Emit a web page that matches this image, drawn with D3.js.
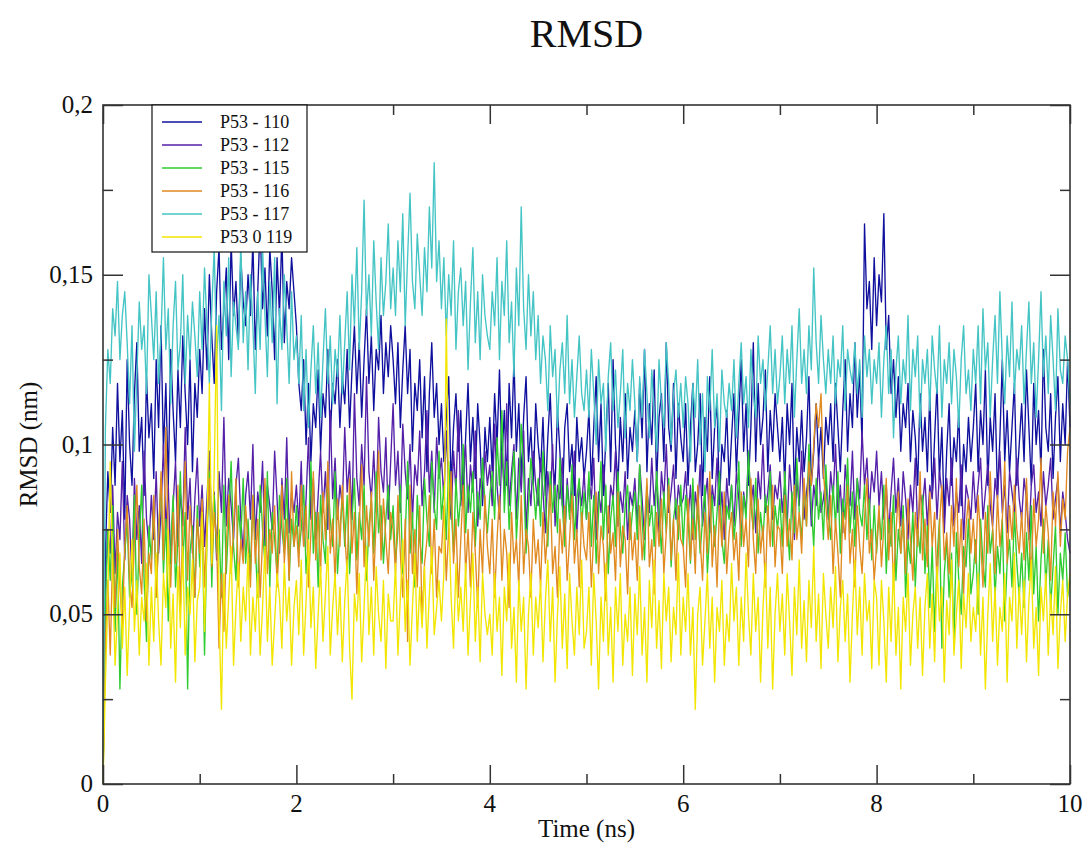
<!DOCTYPE html>
<html>
<head>
<meta charset="utf-8">
<script src="https://cdn.jsdelivr.net/npm/d3@7"></script>
<style>
    body { margin: 0; background: #fff; }
    svg text { font-family: "Liberation Serif", "DejaVu Serif", serif; fill: #111; }
</style>
</head>
<body>
<div id="chart"></div>
<script>
// valores RMSD en milesimas de nm (0.001 nm), una muestra cada 0.025 ns
let rmsd110 = [
    0, 68, 92, 80, 105, 88, 118, 95, 110, 78, 125, 100, 88, 115, 130, 98, 108, 85, 120, 102,
    112, 90, 125, 105, 135, 98, 118, 88, 128, 110, 95, 122, 105, 132, 115, 100, 125, 92, 118, 108,
    128, 115, 140, 122, 150, 132, 118, 145, 158, 128, 140, 152, 125, 160, 138, 148, 130, 155, 142, 135,
    150, 138, 160, 128, 145, 165, 140, 152, 132, 158, 145, 125, 155, 138, 162, 130, 148, 140, 155, 145,
    135, 118, 110, 125, 100, 118, 95, 112, 105, 122, 98, 115, 108, 128, 102, 118, 112, 125, 105, 120,
    112, 128, 105, 122, 135, 115, 130, 108, 125, 140, 118, 132, 110, 128, 122, 138, 115, 130, 120, 135,
    125, 112, 130, 105, 122, 135, 115, 128, 98, 118, 110, 125, 102, 120, 92, 115, 130, 108, 118, 100,
    112, 95, 108, 120, 88, 105, 115, 98, 110, 85, 102, 118, 95, 108, 90, 112, 100, 82, 105, 95,
    108, 92, 115, 100, 122, 95, 110, 88, 118, 102, 125, 98, 112, 90, 108, 120, 95, 105, 88, 112,
    100, 92, 108, 85, 102, 115, 95, 88, 110, 98, 82, 105, 112, 92, 100, 85, 108, 95, 102, 90,
    98, 110, 88, 105, 120, 95, 112, 85, 102, 118, 92, 125, 100, 88, 108, 95, 115, 90, 105, 98,
    110, 95, 118, 102, 128, 92, 112, 100, 122, 88, 108, 115, 95, 130, 105, 98, 118, 90, 112, 102,
    95, 112, 88, 105, 118, 92, 100, 115, 85, 108, 98, 120, 90, 105, 112, 82, 100, 95, 110, 88,
    102, 115, 92, 108, 125, 98, 112, 88, 105, 130, 95, 118, 100, 108, 122, 92, 110, 98, 115, 105,
    95, 108, 88, 112, 100, 118, 85, 105, 95, 110, 92, 102, 120, 88, 98, 112, 95, 105, 90, 108,
    100, 112, 95, 118, 105, 92, 110, 125, 98, 115, 105, 130, 108, 122, 100, 165, 140, 148, 128, 155,
    135, 150, 142, 168, 128, 138, 115, 125, 108, 120, 98, 112, 105, 118, 95, 110, 102, 88, 115, 98,
    108, 92, 115, 85, 102, 118, 90, 105, 78, 98, 112, 88, 102, 95, 110, 82, 100, 92, 108, 95,
    105, 118, 92, 110, 100, 122, 88, 108, 98, 115, 85, 102, 125, 95, 110, 92, 105, 118, 88, 100,
    112, 95, 122, 105, 88, 118, 100, 110, 92, 128, 105, 98, 115, 90, 108, 120, 95, 112, 100, 125, 105
];
let rmsd112 = [
    0, 58, 75, 68, 88, 62, 80, 72, 95, 66, 85, 78, 60, 90, 72, 82, 65, 98, 78, 70,
    85, 72, 92, 68, 80, 100, 75, 88, 65, 82, 95, 70, 86, 76, 105, 78, 90, 68, 84, 96,
    76, 88, 70, 84, 98, 74, 86, 66, 92, 80, 108, 76, 90, 82, 72, 88, 96, 78, 68, 85,
    92, 78, 100, 72, 86, 80, 95, 70, 88, 82, 75, 98, 84, 68, 90, 78, 102, 74, 86, 80,
    88, 76, 95, 70, 84, 102, 78, 90, 72, 85, 98, 80, 92, 75, 110, 84, 96, 78, 88, 82,
    105, 86, 95, 78, 115, 90, 82, 100, 88, 120, 92, 84, 98, 80, 108, 92, 86, 102, 78, 95,
    112, 88, 98, 80, 106, 92, 84, 100, 78, 94, 88, 104, 82, 92, 110, 86, 98, 80, 102, 90,
    96, 84, 104, 88, 78, 98, 86, 110, 82, 92, 100, 80, 94, 86, 104, 76, 90, 84, 98, 88,
    94, 82, 106, 88, 78, 98, 86, 112, 82, 92, 100, 78, 96, 86, 104, 74, 90, 82, 98, 88,
    82, 96, 86, 74, 92, 82, 100, 76, 88, 84, 96, 72, 90, 80, 86, 98, 74, 88, 82, 92,
    78, 90, 84, 96, 72, 86, 80, 94, 82, 74, 88, 84, 98, 76, 86, 80, 92, 72, 86, 82,
    90, 76, 94, 84, 72, 86, 80, 96, 82, 90, 74, 92, 84, 100, 80, 86, 94, 78, 88, 82,
    84, 92, 78, 88, 72, 86, 80, 94, 76, 84, 90, 74, 88, 82, 96, 78, 86, 72, 90, 80,
    88, 76, 92, 84, 72, 86, 80, 98, 82, 88, 74, 92, 84, 100, 80, 86, 94, 78, 88, 84,
    92, 80, 88, 76, 94, 84, 72, 90, 82, 98, 78, 86, 92, 76, 88, 82, 96, 80, 84, 90,
    78, 92, 84, 100, 80, 88, 74, 94, 86, 82, 98, 78, 90, 84, 104, 88, 96, 80, 92, 86,
    98, 82, 92, 78, 88, 74, 86, 96, 80, 90, 76, 92, 84, 72, 88, 80, 96, 74, 86, 82,
    90, 76, 88, 84, 96, 78, 92, 86, 74, 90, 82, 96, 76, 86, 80, 94, 72, 88, 84, 78,
    92, 80, 88, 96, 78, 86, 94, 82, 76, 90, 84, 98, 80, 88, 74, 92, 86, 80, 96, 84,
    78, 90, 84, 72, 88, 94, 80, 86, 76, 92, 82, 88, 96, 78, 84, 90, 74, 86, 80, 72, 68
];
let rmsd115 = [
    0, 52, 75, 60, 82, 45, 70, 28, 58, 68, 78, 55, 62, 85, 50, 72, 88, 60, 42, 76,
    66, 82, 55, 74, 90, 62, 78, 48, 70, 85, 58, 72, 92, 65, 80, 28, 68, 76, 55, 82,
    64, 80, 38, 72, 92, 58, 85, 68, 75, 55, 88, 62, 78, 95, 70, 60, 82, 72, 90, 65,
    78, 62, 85, 70, 55, 88, 75, 65, 92, 58, 80, 72, 62, 85, 75, 68, 90, 60, 78, 70,
    82, 68, 75, 88, 62, 72, 95, 68, 80, 58, 85, 72, 65, 90, 78, 70, 92, 62, 75, 84,
    70, 85, 62, 78, 90, 66, 80, 72, 88, 60, 76, 84, 68, 92, 74, 82, 65, 78, 88, 72,
    82, 65, 75, 88, 62, 72, 95, 68, 80, 58, 85, 72, 65, 90, 78, 70, 95, 82, 75, 98,
    78, 88, 72, 95, 82, 68, 90, 76, 85, 100, 74, 88, 80, 92, 70, 86, 78, 96, 82, 74,
    85, 92, 78, 102, 88, 110, 80, 95, 75, 88, 98, 72, 85, 106, 92, 68, 82, 96, 88, 78,
    90, 76, 98, 84, 70, 92, 80, 88, 74, 96, 82, 70, 88, 78, 94, 72, 84, 90, 76, 86,
    78, 92, 70, 85, 65, 80, 95, 72, 88, 62, 78, 85, 70, 92, 75, 68, 82, 88, 72, 80,
    86, 72, 94, 78, 66, 88, 76, 82, 70, 92, 80, 68, 86, 74, 90, 64, 78, 84, 72, 88,
    70, 85, 78, 65, 90, 72, 82, 68, 78, 88, 62, 75, 85, 70, 80, 92, 72, 65, 82, 78,
    88, 72, 80, 95, 70, 85, 78, 98, 82, 75, 90, 68, 80, 72, 85, 78, 92, 70, 82, 75,
    84, 70, 92, 78, 66, 86, 74, 96, 80, 72, 88, 76, 100, 82, 70, 90, 78, 86, 72, 94,
    80, 72, 88, 76, 92, 68, 84, 78, 96, 74, 86, 70, 90, 80, 76, 88, 72, 84, 66, 82,
    68, 80, 72, 88, 62, 78, 70, 85, 60, 75, 68, 82, 55, 72, 65, 80, 58, 75, 68, 85,
    62, 76, 52, 70, 45, 66, 78, 40, 62, 72, 55, 68, 42, 74, 60, 50, 70, 64, 78, 56,
    62, 72, 50, 78, 65, 58, 82, 68, 75, 55, 70, 62, 78, 48, 65, 72, 58, 80, 65, 55,
    68, 52, 74, 60, 82, 56, 70, 48, 66, 78, 58, 72, 52, 64, 76, 50, 68, 60, 74, 55, 60
];
let rmsd116 = [
    0, 42, 60, 38, 68, 52, 75, 58, 46, 70, 82, 60, 52, 72, 88, 64, 56, 78, 48, 68,
    62, 85, 55, 72, 92, 66, 105, 70, 58, 80, 65, 88, 52, 75, 95, 60, 82, 70, 55, 78,
    68, 84, 58, 76, 90, 64, 80, 72, 40, 62, 45, 70, 85, 62, 75, 90, 58, 72, 65, 82,
    70, 58, 85, 65, 78, 55, 72, 90, 62, 75, 68, 82, 58, 72, 88, 65, 78, 60, 92, 70,
    76, 64, 88, 70, 82, 58, 74, 92, 66, 80, 62, 86, 72, 95, 68, 78, 60, 84, 70, 88,
    74, 62, 90, 68, 80, 56, 76, 94, 64, 82, 70, 86, 60, 78, 98, 66, 84, 72, 62, 80,
    75, 62, 85, 68, 55, 78, 42, 88, 62, 75, 58, 82, 48, 65, 72, 85, 62, 78, 55, 70,
    68, 82, 60, 75, 92, 65, 78, 55, 72, 88, 62, 75, 58, 80, 68, 52, 75, 62, 85, 70,
    62, 78, 55, 72, 85, 60, 75, 68, 52, 80, 65, 72, 58, 85, 62, 75, 70, 55, 78, 65,
    72, 58, 80, 65, 75, 88, 62, 70, 55, 78, 68, 82, 60, 72, 85, 65, 75, 58, 80, 70,
    66, 80, 58, 74, 86, 62, 76, 70, 54, 82, 68, 74, 60, 86, 64, 76, 72, 56, 80, 66,
    74, 60, 82, 66, 76, 90, 64, 72, 56, 80, 70, 84, 62, 74, 88, 66, 78, 60, 82, 72,
    70, 58, 84, 66, 78, 62, 88, 72, 60, 80, 68, 92, 64, 76, 58, 82, 70, 86, 62, 74,
    80, 66, 74, 60, 86, 70, 78, 64, 90, 72, 62, 84, 68, 76, 58, 82, 70, 88, 64, 76,
    75, 62, 85, 70, 78, 66, 88, 72, 80, 68, 90, 76, 95, 88, 100, 112, 105, 115, 92, 82,
    72, 85, 62, 78, 68, 55, 80, 72, 88, 65, 75, 58, 82, 70, 62, 78, 90, 68, 75, 60,
    70, 82, 64, 76, 90, 66, 80, 58, 74, 86, 68, 78, 62, 84, 72, 60, 80, 70, 92, 66,
    78, 64, 86, 70, 80, 58, 76, 88, 66, 74, 62, 82, 70, 90, 64, 78, 56, 76, 84, 68,
    78, 65, 85, 72, 58, 80, 68, 92, 75, 62, 85, 70, 78, 95, 65, 82, 72, 88, 75, 68,
    80, 66, 90, 72, 62, 84, 70, 78, 96, 68, 82, 74, 60, 86, 76, 92, 70, 84, 78, 98, 105
];
let rmsd117 = [
    0, 105, 128, 118, 140, 132, 148, 125, 138, 145, 130, 112, 135, 98, 120, 142, 128, 135, 115, 150,
    138, 125, 145, 118, 132, 155, 128, 140, 112, 135, 148, 122, 130, 150, 118, 138, 125, 142, 132, 120,
    145, 128, 152, 135, 118, 140, 158, 125, 138, 110, 148, 132, 155, 120, 142, 135, 128, 160, 130, 145,
    122, 150, 135, 115, 145, 128, 158, 138, 120, 148, 130, 155, 112, 140, 128, 150, 135, 118, 145, 125,
    132, 118, 138, 110, 128, 105, 122, 135, 115, 130, 108, 125, 140, 118, 132, 112, 128, 120, 138, 115,
    130, 145, 122, 150, 135, 158, 128, 145, 172, 138, 150, 132, 160, 142, 128, 155, 138, 148, 165, 140,
    152, 138, 160, 145, 168, 135, 155, 174, 148, 140, 162, 150, 138, 158, 145, 170, 152, 183, 148, 160,
    140, 155, 132, 150, 138, 160, 128, 145, 152, 135, 148, 122, 142, 158, 130, 145, 125, 150, 138, 132,
    128, 145, 135, 155, 125, 148, 138, 160, 130, 142, 120, 152, 135, 170, 140, 128, 150, 132, 145, 125,
    138, 118, 132, 125, 110, 135, 120, 128, 105, 122, 130, 115, 138, 112, 125, 108, 120, 132, 115, 110,
    122, 108, 128, 115, 100, 125, 112, 118, 98, 120, 130, 110, 122, 105, 115, 128, 102, 118, 110, 125,
    112, 95, 120, 108, 128, 115, 102, 122, 110, 98, 125, 112, 105, 130, 118, 100, 115, 122, 108, 118,
    105, 120, 112, 95, 118, 108, 125, 100, 115, 92, 120, 110, 128, 105, 115, 98, 122, 112, 108, 118,
    110, 125, 102, 118, 130, 112, 120, 105, 128, 115, 108, 132, 118, 125, 110, 122, 135, 115, 128, 112,
    120, 132, 112, 128, 118, 135, 108, 125, 140, 118, 128, 115, 135, 122, 152, 130, 118, 138, 125, 115,
    128, 118, 132, 112, 125, 120, 135, 110, 128, 122, 118, 130, 115, 125, 108, 132, 120, 128, 112, 125,
    118, 130, 108, 125, 135, 115, 128, 102, 122, 132, 112, 125, 118, 138, 110, 128, 120, 132, 105, 125,
    118, 128, 110, 132, 122, 115, 135, 108, 125, 118, 130, 112, 128, 120, 105, 125, 135, 115, 122, 110,
    128, 118, 135, 112, 140, 122, 130, 108, 125, 138, 118, 145, 125, 112, 132, 120, 142, 115, 128, 122,
    135, 112, 128, 142, 118, 130, 108, 125, 145, 120, 132, 115, 138, 125, 110, 140, 122, 118, 132, 125, 112
];
let rmsd119 = [
    0, 30, 55, 95, 62, 35, 50, 68, 40, 58, 32, 52, 72, 45, 60, 38, 55, 48, 65, 35,
    58, 42, 68, 48, 35, 62, 52, 75, 40, 56, 30, 64, 46, 70, 38, 58, 50, 66, 36, 54,
    58, 80, 45, 72, 118, 65, 92, 135, 50, 22, 62, 40, 55, 70, 35, 52, 65, 42, 58, 48,
    68, 38, 55, 45, 62, 38, 52, 70, 42, 58, 35, 48, 62, 55, 40, 65, 48, 58, 35, 52,
    60, 44, 66, 38, 54, 72, 46, 58, 34, 50, 64, 42, 56, 70, 38, 52, 62, 44, 58, 36,
    54, 66, 40, 25, 56, 48, 62, 36, 52, 70, 44, 58, 38, 64, 50, 42, 60, 34, 56, 48,
    48, 65, 38, 55, 72, 45, 60, 35, 52, 68, 42, 58, 46, 64, 40, 56, 70, 44, 52, 60,
    48, 62, 137, 80, 55, 40, 65, 48, 58, 45, 65, 38, 54, 68, 42, 58, 36, 62, 50, 44,
    50, 38, 62, 45, 55, 32, 58, 48, 68, 40, 52, 30, 60, 45, 55, 28, 50, 62, 38, 55,
    46, 60, 36, 54, 66, 42, 58, 30, 50, 64, 40, 56, 34, 62, 48, 38, 58, 44, 66, 40,
    45, 58, 35, 62, 48, 28, 55, 42, 65, 38, 52, 30, 58, 45, 62, 35, 50, 42, 58, 32,
    56, 44, 64, 38, 52, 30, 60, 46, 66, 40, 54, 34, 62, 48, 58, 36, 52, 44, 68, 38,
    55, 45, 62, 38, 52, 22, 50, 58, 35, 48, 62, 40, 55, 30, 52, 45, 60, 35, 50, 42,
    65, 48, 58, 35, 55, 42, 68, 50, 38, 62, 45, 55, 30, 52, 65, 40, 58, 28, 50, 62,
    45, 56, 38, 62, 48, 32, 58, 44, 66, 40, 54, 36, 60, 46, 70, 42, 56, 34, 62, 50,
    40, 58, 46, 64, 36, 52, 60, 42, 56, 30, 50, 66, 44, 58, 38, 62, 48, 54, 34, 60,
    55, 35, 60, 48, 30, 58, 42, 65, 38, 52, 28, 55, 45, 62, 35, 50, 58, 40, 55, 32,
    52, 62, 40, 56, 36, 64, 48, 58, 30, 54, 44, 66, 38, 50, 60, 34, 56, 46, 62, 42,
    52, 45, 62, 38, 55, 28, 50, 65, 42, 58, 35, 52, 45, 62, 30, 55, 48, 68, 40, 58,
    44, 60, 36, 54, 66, 40, 52, 32, 58, 48, 62, 38, 56, 44, 64, 34, 50, 60, 42, 56, 62
];

let seriesNames = ['P53 - 110', 'P53 - 112', 'P53 - 115', 'P53 - 116', 'P53 - 117', 'P53 0 119'];
let seriesValues = [rmsd110, rmsd112, rmsd115, rmsd116, rmsd117, rmsd119];
let seriesColors = ['#10109e', '#5420a8', '#2ecc2e', '#e08a20', '#44c4c4', '#f2e600'];

let xMajor = [0, 2, 4, 6, 8, 10];
let xMinor = [1, 3, 5, 7, 9];
let yMajor = [0, 0.05, 0.1, 0.15, 0.2];
let yMinor = [0.025, 0.075, 0.125, 0.175];
let yLabels = ['0', '0,05', '0,1', '0,15', '0,2'];

let width = 1090;
let height = 845;
let margin = { top: 105, right: 20, bottom: 61, left: 103 };
let fontFamily = '"Liberation Serif", "DejaVu Serif", serif';

let svg = d3.select('#chart').append('svg')
    .attr('width', width)
    .attr('height', height);

let x = d3.scaleLinear().domain([0, 10]).range([margin.left, width - margin.right]);
let y = d3.scaleLinear().domain([0, 0.2]).range([height - margin.bottom, margin.top]);

// series, en el orden de grace (la ultima queda encima)
let line = d3.line()
    .x((d, i, arr) => x(i * 10 / (arr.length - 1)))
    .y((d) => y(d / 1000));

svg.append('g')
    .selectAll('path')
    .data(seriesValues)
    .join('path')
    .attr('fill', 'none')
    .attr('stroke', (d, i) => seriesColors[i])
    .attr('stroke-width', 1.35)
    .attr('stroke-linejoin', 'round')
    .attr('d', line);

// marco y ticks hacia dentro en los cuatro lados
let frameColor = '#333';
let x0 = x.range()[0], x1 = x.range()[1];
let y0 = y.range()[0], y1 = y.range()[1];

let axes = [
    [d3.axisBottom(x).tickValues(xMajor).tickSize(-19), 'translate(0,' + y0 + ')'],
    [d3.axisBottom(x).tickValues(xMinor).tickSize(-10), 'translate(0,' + y0 + ')'],
    [d3.axisTop(x).tickValues(xMajor).tickSize(-19), 'translate(0,' + y1 + ')'],
    [d3.axisTop(x).tickValues(xMinor).tickSize(-10), 'translate(0,' + y1 + ')'],
    [d3.axisLeft(y).tickValues(yMajor).tickSize(-20), 'translate(' + x0 + ',0)'],
    [d3.axisLeft(y).tickValues(yMinor).tickSize(-10), 'translate(' + x0 + ',0)'],
    [d3.axisRight(y).tickValues(yMajor).tickSize(-20), 'translate(' + x1 + ',0)'],
    [d3.axisRight(y).tickValues(yMinor).tickSize(-10), 'translate(' + x1 + ',0)']
];

axes.forEach(function (a) {
    let g = svg.append('g').attr('transform', a[1]).call(a[0].tickFormat(''));
    g.select('.domain').remove();
    g.selectAll('line').attr('stroke', frameColor).attr('stroke-width', 1.5);
});

svg.append('rect')
    .attr('x', x0)
    .attr('y', y1)
    .attr('width', x1 - x0)
    .attr('height', y0 - y1)
    .attr('fill', 'none')
    .attr('stroke', frameColor)
    .attr('stroke-width', 1.6);

// etiquetas de los ticks
svg.append('g')
    .selectAll('text')
    .data(xMajor)
    .join('text')
    .attr('x', (d) => x(d))
    .attr('y', y0 + 28)
    .attr('text-anchor', 'middle')
    .attr('font-family', fontFamily)
    .style('font-size', '25px')
    .text((d) => d);

svg.append('g')
    .selectAll('text')
    .data(yMajor)
    .join('text')
    .attr('x', x0 - 10)
    .attr('y', (d) => y(d) + 8)
    .attr('text-anchor', 'end')
    .attr('font-family', fontFamily)
    .style('font-size', '25px')
    .text((d, i) => yLabels[i]);

// titulos
svg.append('text')
    .attr('x', (x0 + x1) / 2)
    .attr('y', 47)
    .attr('text-anchor', 'middle')
    .attr('font-family', fontFamily)
    .style('font-size', '40px')
    .text('RMSD');

svg.append('text')
    .attr('x', (x0 + x1) / 2)
    .attr('y', 837)
    .attr('text-anchor', 'middle')
    .attr('font-family', fontFamily)
    .style('font-size', '25px')
    .text('Time (ns)');

svg.append('text')
    .attr('transform', 'translate(37,' + ((y0 + y1) / 2) + ') rotate(-90)')
    .attr('text-anchor', 'middle')
    .attr('font-family', fontFamily)
    .style('font-size', '25px')
    .text('RMSD (nm)');

// leyenda
let legend = svg.append('g').attr('transform', 'translate(152,' + y1 + ')');

legend.append('rect')
    .attr('width', 155)
    .attr('height', 147)
    .attr('fill', '#fff')
    .attr('stroke', '#111')
    .attr('stroke-width', 1.2);

let legendItem = legend.selectAll('.legend-item')
    .data(seriesNames)
    .join('g')
    .attr('class', 'legend-item')
    .attr('transform', (d, i) => 'translate(0,' + (17 + i * 23) + ')');

legendItem.append('line')
    .attr('x1', 10)
    .attr('x2', 50)
    .attr('stroke', (d, i) => seriesColors[i])
    .attr('stroke-width', 1.5);

legendItem.append('text')
    .attr('x', 68)
    .attr('y', 6)
    .attr('font-family', fontFamily)
    .style('font-size', '18px')
    .text((d) => d);
</script>
</body>
</html>
